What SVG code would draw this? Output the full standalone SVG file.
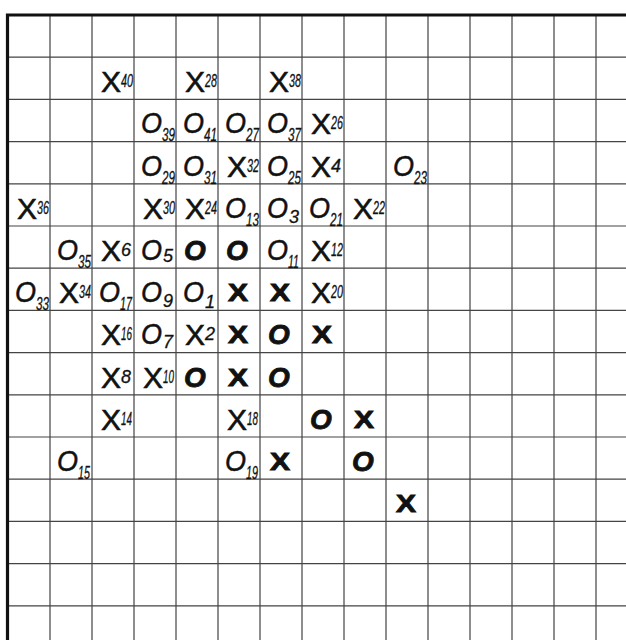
<svg xmlns="http://www.w3.org/2000/svg" width="626" height="640" viewBox="0 0 626 640">
<style>
.g{stroke:#444;stroke-width:1.2;fill:none}
.b{stroke:#111;stroke-width:3.2;fill:none}
text{fill:#111;font-family:"Liberation Sans",Arial,sans-serif}
.x{font-size:30px;stroke:#111;stroke-width:0.6}
.o{font-size:30px;font-style:italic;stroke:#111;stroke-width:0.5}
.n{font-size:18px;font-style:italic;stroke:#111;stroke-width:0.3}
.bx{font-size:24px;font-weight:bold;text-anchor:middle;stroke:#111;stroke-width:0.9}
.bo{font-size:28px;font-weight:bold;font-style:italic;text-anchor:middle;stroke:#111;stroke-width:0.8}
</style>
<rect width="626" height="640" fill="#fff"/>
<g id="grid">
<path class="g" d="M8 57.2H626M8 99.4H626M8 141.6H626M8 183.8H626M8 226H626M8 268.2H626M8 310.4H626M8 352.6H626M8 394.8H626M8 437H626M8 479.2H626M8 521.4H626M8 563.6H626M8 605.8H626"/>
<path class="g" d="M50 15V640M92 15V640M134 15V640M176 15V640M218 15V640M260 15V640M302 15V640M344 15V640M386 15V640M428 15V640M470 15V640M512 15V640M554 15V640M596 15V640"/>
<path class="b" d="M7.5 640V15H626"/>
</g>
<g id="marks">
<g id="x40" transform="translate(92,57.2)"><text x="9" y="35"><tspan class="x">X</tspan><tspan class="n" x="29" y="30" textLength="12" lengthAdjust="spacingAndGlyphs">40</tspan></text></g>
<g id="x28" transform="translate(176,57.2)"><text x="9" y="35"><tspan class="x">X</tspan><tspan class="n" x="29" y="30" textLength="12" lengthAdjust="spacingAndGlyphs">28</tspan></text></g>
<g id="x38" transform="translate(260,57.2)"><text x="9" y="35"><tspan class="x">X</tspan><tspan class="n" x="29" y="30" textLength="12" lengthAdjust="spacingAndGlyphs">38</tspan></text></g>

<g id="o39" transform="translate(134,99.4)"><text x="7" y="34"><tspan class="o" textLength="21" lengthAdjust="spacingAndGlyphs">O</tspan><tspan class="n" x="28" y="42" textLength="13" lengthAdjust="spacingAndGlyphs">39</tspan></text></g>
<g id="o41" transform="translate(176,99.4)"><text x="7" y="34"><tspan class="o" textLength="21" lengthAdjust="spacingAndGlyphs">O</tspan><tspan class="n" x="28" y="42" textLength="13" lengthAdjust="spacingAndGlyphs">41</tspan></text></g>
<g id="o27" transform="translate(218,99.4)"><text x="7" y="34"><tspan class="o" textLength="21" lengthAdjust="spacingAndGlyphs">O</tspan><tspan class="n" x="28" y="42" textLength="13" lengthAdjust="spacingAndGlyphs">27</tspan></text></g>
<g id="o37" transform="translate(260,99.4)"><text x="7" y="34"><tspan class="o" textLength="21" lengthAdjust="spacingAndGlyphs">O</tspan><tspan class="n" x="28" y="42" textLength="13" lengthAdjust="spacingAndGlyphs">37</tspan></text></g>
<g id="x26" transform="translate(302,99.4)"><text x="9" y="35"><tspan class="x">X</tspan><tspan class="n" x="29" y="30" textLength="12" lengthAdjust="spacingAndGlyphs">26</tspan></text></g>

<g id="o29" transform="translate(134,141.6)"><text x="7" y="34"><tspan class="o" textLength="21" lengthAdjust="spacingAndGlyphs">O</tspan><tspan class="n" x="28" y="42" textLength="13" lengthAdjust="spacingAndGlyphs">29</tspan></text></g>
<g id="o31" transform="translate(176,141.6)"><text x="7" y="34"><tspan class="o" textLength="21" lengthAdjust="spacingAndGlyphs">O</tspan><tspan class="n" x="28" y="42" textLength="13" lengthAdjust="spacingAndGlyphs">31</tspan></text></g>
<g id="x32" transform="translate(218,141.6)"><text x="9" y="35"><tspan class="x">X</tspan><tspan class="n" x="29" y="30" textLength="12" lengthAdjust="spacingAndGlyphs">32</tspan></text></g>
<g id="o25" transform="translate(260,141.6)"><text x="7" y="34"><tspan class="o" textLength="21" lengthAdjust="spacingAndGlyphs">O</tspan><tspan class="n" x="28" y="42" textLength="13" lengthAdjust="spacingAndGlyphs">25</tspan></text></g>
<g id="x4" transform="translate(302,141.6)"><text x="9" y="35"><tspan class="x">X</tspan><tspan class="n" x="29" y="30">4</tspan></text></g>
<g id="o23" transform="translate(386,141.6)"><text x="7" y="34"><tspan class="o" textLength="21" lengthAdjust="spacingAndGlyphs">O</tspan><tspan class="n" x="28" y="42" textLength="13" lengthAdjust="spacingAndGlyphs">23</tspan></text></g>

<g id="x36" transform="translate(8,183.8)"><text x="9" y="35"><tspan class="x">X</tspan><tspan class="n" x="29" y="30" textLength="12" lengthAdjust="spacingAndGlyphs">36</tspan></text></g>
<g id="x30" transform="translate(134,183.8)"><text x="9" y="35"><tspan class="x">X</tspan><tspan class="n" x="29" y="30" textLength="12" lengthAdjust="spacingAndGlyphs">30</tspan></text></g>
<g id="x24" transform="translate(176,183.8)"><text x="9" y="35"><tspan class="x">X</tspan><tspan class="n" x="29" y="30" textLength="12" lengthAdjust="spacingAndGlyphs">24</tspan></text></g>
<g id="o13" transform="translate(218,183.8)"><text x="7" y="34"><tspan class="o" textLength="21" lengthAdjust="spacingAndGlyphs">O</tspan><tspan class="n" x="28" y="42" textLength="13" lengthAdjust="spacingAndGlyphs">13</tspan></text></g>
<g id="o3" transform="translate(260,183.8)"><text x="7" y="34"><tspan class="o" textLength="21" lengthAdjust="spacingAndGlyphs">O</tspan><tspan class="n" x="29" y="39">3</tspan></text></g>
<g id="o21" transform="translate(302,183.8)"><text x="7" y="34"><tspan class="o" textLength="21" lengthAdjust="spacingAndGlyphs">O</tspan><tspan class="n" x="28" y="42" textLength="13" lengthAdjust="spacingAndGlyphs">21</tspan></text></g>
<g id="x22" transform="translate(344,183.8)"><text x="9" y="35"><tspan class="x">X</tspan><tspan class="n" x="29" y="30" textLength="12" lengthAdjust="spacingAndGlyphs">22</tspan></text></g>

<g id="o35" transform="translate(50,226)"><text x="7" y="34"><tspan class="o" textLength="21" lengthAdjust="spacingAndGlyphs">O</tspan><tspan class="n" x="28" y="42" textLength="13" lengthAdjust="spacingAndGlyphs">35</tspan></text></g>
<g id="x6" transform="translate(92,226)"><text x="9" y="35"><tspan class="x">X</tspan><tspan class="n" x="29" y="30">6</tspan></text></g>
<g id="o5" transform="translate(134,226)"><text x="7" y="34"><tspan class="o" textLength="21" lengthAdjust="spacingAndGlyphs">O</tspan><tspan class="n" x="29" y="36">5</tspan></text></g>
<g id="ob1" transform="translate(176,226)"><text class="bo" x="19" y="34">O</text></g>
<g id="ob2" transform="translate(218,226)"><text class="bo" x="19" y="34">O</text></g>
<g id="o11" transform="translate(260,226)"><text x="7" y="34"><tspan class="o" textLength="21" lengthAdjust="spacingAndGlyphs">O</tspan><tspan class="n" x="28" y="42" textLength="11" lengthAdjust="spacingAndGlyphs">11</tspan></text></g>
<g id="x12" transform="translate(302,226)"><text x="9" y="35"><tspan class="x">X</tspan><tspan class="n" x="29" y="30" textLength="12" lengthAdjust="spacingAndGlyphs">12</tspan></text></g>

<g id="o33" transform="translate(8,268.2)"><text x="7" y="34"><tspan class="o" textLength="21" lengthAdjust="spacingAndGlyphs">O</tspan><tspan class="n" x="28" y="42" textLength="13" lengthAdjust="spacingAndGlyphs">33</tspan></text></g>
<g id="x34" transform="translate(50,268.2)"><text x="9" y="35"><tspan class="x">X</tspan><tspan class="n" x="29" y="30" textLength="12" lengthAdjust="spacingAndGlyphs">34</tspan></text></g>
<g id="o17" transform="translate(92,268.2)"><text x="7" y="34"><tspan class="o" textLength="21" lengthAdjust="spacingAndGlyphs">O</tspan><tspan class="n" x="28" y="42" textLength="12" lengthAdjust="spacingAndGlyphs">17</tspan></text></g>
<g id="o9" transform="translate(134,268.2)"><text x="7" y="34"><tspan class="o" textLength="21" lengthAdjust="spacingAndGlyphs">O</tspan><tspan class="n" x="29" y="39">9</tspan></text></g>
<g id="o1" transform="translate(176,268.2)"><text x="7" y="34"><tspan class="o" textLength="21" lengthAdjust="spacingAndGlyphs">O</tspan><tspan class="n" x="29" y="40">1</tspan></text></g>
<g id="xb1" transform="translate(218,268.2)"><text class="bx" x="20" y="33" textLength="20" lengthAdjust="spacingAndGlyphs">X</text></g>
<g id="xb2" transform="translate(260,268.2)"><text class="bx" x="20" y="33" textLength="20" lengthAdjust="spacingAndGlyphs">X</text></g>
<g id="x20" transform="translate(302,268.2)"><text x="9" y="35"><tspan class="x">X</tspan><tspan class="n" x="29" y="30" textLength="12" lengthAdjust="spacingAndGlyphs">20</tspan></text></g>

<g id="x16" transform="translate(92,310.4)"><text x="9" y="35"><tspan class="x">X</tspan><tspan class="n" x="29" y="30" textLength="11" lengthAdjust="spacingAndGlyphs">16</tspan></text></g>
<g id="o7" transform="translate(134,310.4)"><text x="7" y="34"><tspan class="o" textLength="21" lengthAdjust="spacingAndGlyphs">O</tspan><tspan class="n" x="29" y="38">7</tspan></text></g>
<g id="x2" transform="translate(176,310.4)"><text x="9" y="35"><tspan class="x">X</tspan><tspan class="n" x="29" y="30">2</tspan></text></g>
<g id="xb3" transform="translate(218,310.4)"><text class="bx" x="20" y="33" textLength="20" lengthAdjust="spacingAndGlyphs">X</text></g>
<g id="ob3" transform="translate(260,310.4)"><text class="bo" x="19" y="34">O</text></g>
<g id="xb4" transform="translate(302,310.4)"><text class="bx" x="20" y="33" textLength="20" lengthAdjust="spacingAndGlyphs">X</text></g>

<g id="x8" transform="translate(92,352.6)"><text x="9" y="35"><tspan class="x">X</tspan><tspan class="n" x="29" y="30">8</tspan></text></g>
<g id="x10" transform="translate(134,352.6)"><text x="9" y="35"><tspan class="x">X</tspan><tspan class="n" x="29" y="30" textLength="11" lengthAdjust="spacingAndGlyphs">10</tspan></text></g>
<g id="ob4" transform="translate(176,352.6)"><text class="bo" x="19" y="34">O</text></g>
<g id="xb5" transform="translate(218,352.6)"><text class="bx" x="20" y="33" textLength="20" lengthAdjust="spacingAndGlyphs">X</text></g>
<g id="ob5" transform="translate(260,352.6)"><text class="bo" x="19" y="34">O</text></g>

<g id="x14" transform="translate(92,394.8)"><text x="9" y="35"><tspan class="x">X</tspan><tspan class="n" x="29" y="30" textLength="11" lengthAdjust="spacingAndGlyphs">14</tspan></text></g>
<g id="x18" transform="translate(218,394.8)"><text x="9" y="35"><tspan class="x">X</tspan><tspan class="n" x="29" y="30" textLength="11" lengthAdjust="spacingAndGlyphs">18</tspan></text></g>
<g id="ob6" transform="translate(302,394.8)"><text class="bo" x="19" y="34">O</text></g>
<g id="xb6" transform="translate(344,394.8)"><text class="bx" x="20" y="33" textLength="20" lengthAdjust="spacingAndGlyphs">X</text></g>

<g id="o15" transform="translate(50,437)"><text x="7" y="34"><tspan class="o" textLength="21" lengthAdjust="spacingAndGlyphs">O</tspan><tspan class="n" x="28" y="42" textLength="12" lengthAdjust="spacingAndGlyphs">15</tspan></text></g>
<g id="o19" transform="translate(218,437)"><text x="7" y="34"><tspan class="o" textLength="21" lengthAdjust="spacingAndGlyphs">O</tspan><tspan class="n" x="28" y="42" textLength="12" lengthAdjust="spacingAndGlyphs">19</tspan></text></g>
<g id="xb7" transform="translate(260,437)"><text class="bx" x="20" y="33" textLength="20" lengthAdjust="spacingAndGlyphs">X</text></g>
<g id="ob7" transform="translate(344,437)"><text class="bo" x="19" y="34">O</text></g>

<g id="xb8" transform="translate(386,479.2)"><text class="bx" x="20" y="33" textLength="20" lengthAdjust="spacingAndGlyphs">X</text></g>
</g>
</svg>
